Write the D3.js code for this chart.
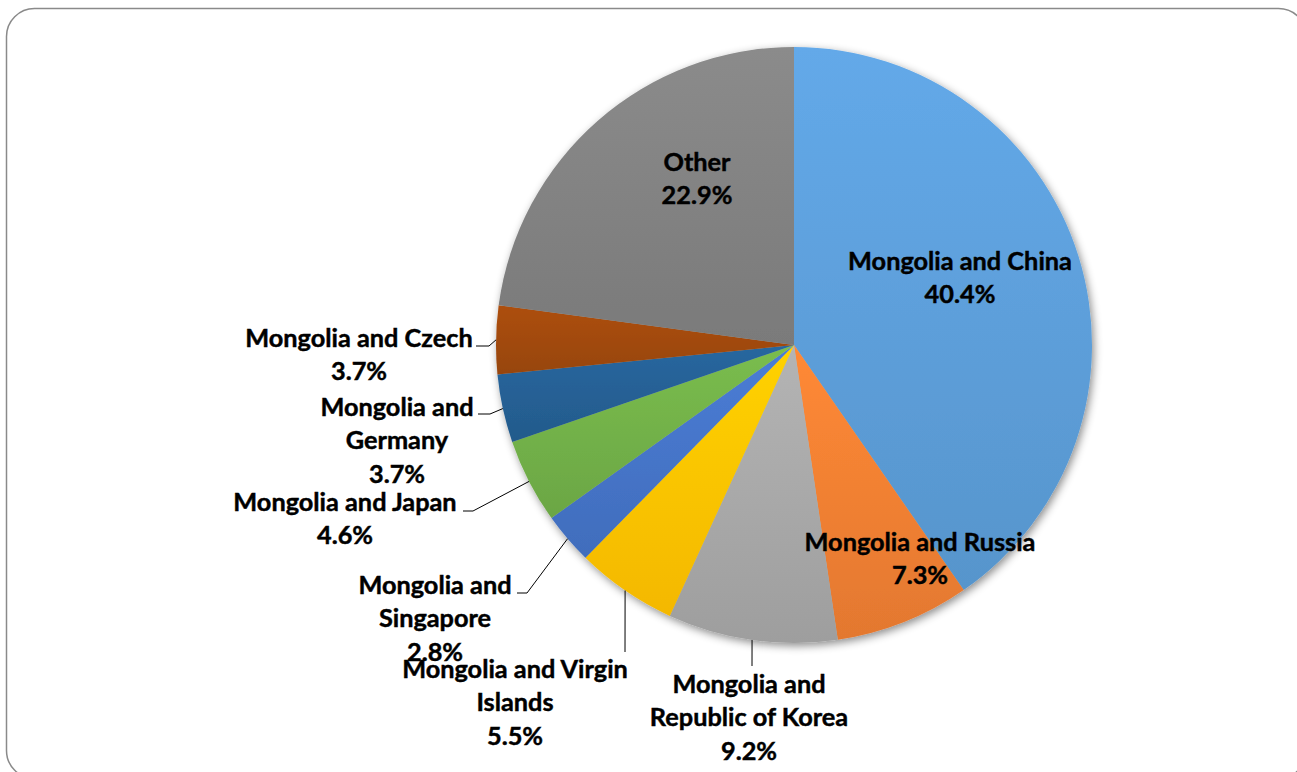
<!DOCTYPE html>
<html><head><meta charset="utf-8">
<script src="https://cdn.jsdelivr.net/npm/d3@7"></script>
<style>html,body{margin:0;padding:0;background:#fff;overflow:hidden}</style>
</head><body>
<svg id="chart" width="1297" height="772"></svg>
<script>
// ---- data ----
const categories = ["Mongolia and China","Mongolia and Russia","Mongolia and Republic of Korea","Mongolia and Virgin Islands","Mongolia and Singapore","Mongolia and Japan","Mongolia and Germany","Mongolia and Czech","Other"];
const values = [40.4, 7.3, 9.2, 5.5, 2.8, 4.6, 3.7, 3.7, 22.9];
const labelLines = [
  ["Mongolia and China"],
  ["Mongolia and Russia"],
  ["Mongolia and","Republic of Korea"],
  ["Mongolia and Virgin","Islands"],
  ["Mongolia and","Singapore"],
  ["Mongolia and Japan"],
  ["Mongolia and","Germany"],
  ["Mongolia and Czech"],
  ["Other"]
];
const colors = ["#5B9BD5","#ED7D31","#A5A5A5","#FFC000","#4472C4","#70AD47","#255E91","#9E480E","#7F7F7F"];

// ---- layout (label block centre x, first line centre y; leader elbow) ----
const labelPos = [
  {x:960,y:261},{x:920,y:542},{x:749,y:684},{x:515,y:669},{x:435,y:585},
  {x:345,y:502},{x:397,y:407},{x:359,y:338},{x:697,y:162}
];
const leaders = [null,null,
  {pts:[[752,666]]},
  {pts:[[625,652]]},
  {pts:[[527,593],[517,593]]},
  {pts:[[473,511],[463,511]]},
  {pts:[[490,414],[478,414]]},
  {pts:[[489,346],[476,346]]},
  null];

const svg = d3.select("#chart");
const cx = 794, cy = 345, R = 298;
const lineH = 33.5;

// frame
svg.append("rect").attr("x",6.5).attr("y",8.5).attr("width",1300).attr("height",770)
  .attr("rx",28).attr("fill","#fff").attr("stroke","#8a8a8a").attr("stroke-width",1.5);

const defs = svg.append("defs");
const f = defs.append("filter").attr("id","shadow").attr("x","-10%").attr("y","-10%").attr("width","120%").attr("height","120%");
f.append("feDropShadow").attr("dx",2).attr("dy",3).attr("stdDeviation",4).attr("flood-color","#000").attr("flood-opacity",0.45);

colors.forEach((c,i)=>{
  const g = defs.append("linearGradient").attr("id","g"+i).attr("x1",0).attr("y1",0).attr("x2",0).attr("y2",1);
  g.append("stop").attr("offset","0%").attr("stop-color",d3.color(c).brighter(0.25));
  g.append("stop").attr("offset","100%").attr("stop-color",d3.color(c).darker(0.12));
});

const pie = d3.pie().sort(null).value(d=>d)(values);
const arc = d3.arc().innerRadius(0).outerRadius(R);

const pg = svg.append("g").attr("transform",`translate(${cx},${cy})`);
pg.append("g").attr("filter","url(#shadow)").selectAll("path").data(pie).join("path")
  .attr("d",arc).attr("fill",(d,i)=>`url(#g${i})`);

// leader lines
pie.forEach((d,i)=>{
  const L = leaders[i]; if(!L) return;
  const a = (d.startAngle+d.endAngle)/2;
  const p0 = [cx + R*Math.sin(a), cy - R*Math.cos(a)];
  const pts = [p0, ...L.pts];
  svg.append("path").attr("d", d3.line()(pts)).attr("fill","none").attr("stroke","#000").attr("stroke-width",1);
});

// labels
const fontFamily = "Lato, 'Open Sans', sans-serif";
let fontSize = 22;
const probe = svg.append("text").attr("font-family",fontFamily).attr("font-weight","bold").attr("font-size",fontSize).text("Mongolia and China");
const w = probe.node().getComputedTextLength();
if (w>0) fontSize = fontSize*224/w;
probe.remove();

pie.forEach((d,i)=>{
  const lines = labelLines[i].concat([values[i].toFixed(1)+"%"]);
  const t = svg.append("text").attr("font-family",fontFamily).attr("font-weight","bold")
    .attr("font-size",fontSize).attr("fill","#000").attr("stroke","#000").attr("stroke-width",0.45)
    .attr("text-anchor","middle");
  lines.forEach((s,k)=>{
    t.append("tspan").attr("x",labelPos[i].x).attr("y",labelPos[i].y + k*lineH).attr("dy","0.35em").text(s);
  });
});
</script>
</body></html>
